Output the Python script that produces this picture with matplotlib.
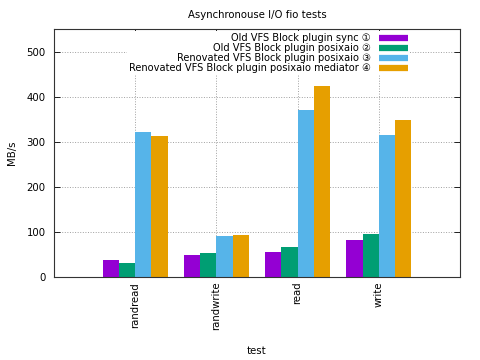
import matplotlib
matplotlib.use("Agg")
import matplotlib.pyplot as plt
import numpy as np

# data
tests = ["randread", "randwrite", "read", "write"]
series = [
    "Old VFS Block plugin sync \u2460",
    "Old VFS Block plugin posixaio \u2461",
    "Renovated VFS Block plugin posixaio \u2462",
    "Renovated VFS Block plugin posixaio mediator \u2463",
]
sync_old = [38, 49, 55, 82]
posixaio_old = [30, 54, 67, 96]
posixaio_new = [322, 91, 371, 316]
mediator_new = [313, 94, 424, 349]
colors = ["#9400d3", "#009e73", "#56b4e9", "#e69f00"]

values = [sync_old, posixaio_old, posixaio_new, mediator_new]

plt.rcParams['font.family'] = ['DejaVu Sans']
fig = plt.figure(figsize=(4.8, 3.6), dpi=100)
ax = fig.add_subplot(111)
fig.subplots_adjust(left=54/480, right=460/480, top=1-29/360, bottom=1-277/360)

x = np.arange(len(tests))
w = 0.2
for i in range(len(values)):
    ax.bar(x + (i - 1.5) * w, values[i], width=w, color=colors[i], zorder=2)

ax.set_xlim(-1, 4)
ax.set_ylim(0, 550)
ax.set_yticks([0, 100, 200, 300, 400, 500])
ax.set_xticks(x)
ax.set_xticklabels(tests, rotation=90, fontsize=7.3)
ax.tick_params(axis='y', labelsize=7.3, pad=6)
ax.tick_params(direction='in', top=True, right=True, length=4, width=0.6)
ax.grid(True, linestyle=':', color='#a0a0a0', linewidth=0.7, zorder=0)
ax.set_axisbelow(True)
for s in ax.spines.values():
    s.set_linewidth(0.8)
    s.set_color('#333333')

ax.set_title("Asynchronouse I/O fio tests", fontsize=7.3, pad=8)
ax.set_ylabel("MB/s", fontsize=7.3)
ax.yaxis.set_label_coords(-0.103, 0.5)
ax.yaxis.label.set_va('center')
ax.set_xlabel("test", fontsize=7.3)
ax.xaxis.set_label_coords(0.5, -0.298)
ax.xaxis.label.set_va('center')

handles = [plt.Line2D([], [], color=c, linewidth=4.5, solid_capstyle='butt') for c in colors]
leg = ax.legend(handles, series, loc='upper right', bbox_to_anchor=(0.89, 1.01),
                markerfirst=False, fontsize=7.1, frameon=True, handlelength=3.0,
                handleheight=0.5, handletextpad=0.8, labelspacing=0.0, borderpad=0.2,
                fancybox=False)
leg.get_frame().set_edgecolor('none')
leg.get_frame().set_facecolor('white')
leg.get_frame().set_alpha(1.0)

fig.savefig("out.png", dpi=100)
